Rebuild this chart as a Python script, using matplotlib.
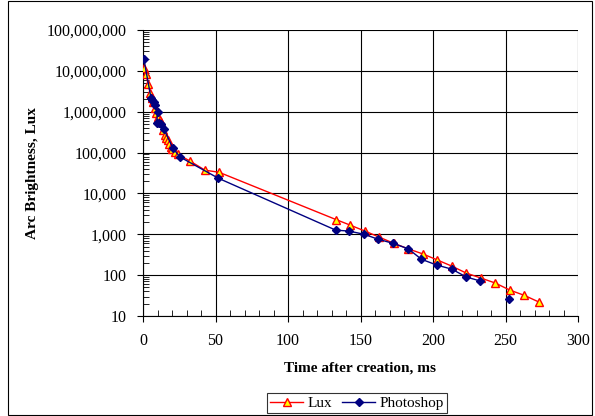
import numpy as np
import matplotlib
matplotlib.use("Agg")
import matplotlib.pyplot as plt
from matplotlib.ticker import FuncFormatter, LogLocator, MultipleLocator
from matplotlib.patches import Rectangle

# data
lux_t = [0.7, 2, 3.5, 5, 6, 7, 8.3, 9.3, 10.3, 11.4, 12.4, 13.8, 15.2, 16.2, 17.2,
         18, 19, 20, 22, 24, 32.4, 42.8, 52.4,
         133, 143, 153, 163, 173, 183, 193, 203, 213, 223, 233, 243, 253, 263, 273]
lux_v = [1.2e7, 8.5e6, 4.7e6, 2.9e6, 2.2e6, 1.7e6, 1.2e6, 9.5e5, 7.4e5, 6.3e5, 5.5e5,
         3.5e5, 2.7e5, 2.3e5, 2.0e5, 1.6e5, 1.4e5, 1.2e5, 1.02e5, 9.1e4, 6.2e4, 3.7e4, 3.3e4,
         2300, 1670, 1200, 850, 600, 440, 330, 235, 166, 112, 85, 64, 43, 32, 22]

ps_t = [0.5, 5.5, 6.5, 7.5, 8.5, 10, 9.5, 11, 12.5, 14.5, 20.7, 25.5, 52,
        133, 142, 152.5, 162, 172.5, 183, 192, 202.5, 213, 223, 232.5, 243, 252.5]
ps_v = [2e7, 2.2e6, 1.9e6, 1.7e6, 1.5e6, 1e6, 5.2e5, 5.2e5, 5.0e5, 3.7e5, 1.27e5, 7.8e4, 2.35e4,
        1260, 1200, 1000, 760, 600, 440, 245, 177, 140, 90, 72, np.nan, 26]

plt.rcParams['font.family'] = ['Liberation Serif', 'DejaVu Serif']

fig = plt.figure(figsize=(5.95, 4.16), dpi=100)
ax = fig.add_axes([143 / 595, 1 - 316 / 416, 435 / 595, 286 / 416])

ax.plot(lux_t, lux_v, color='#ff0000', lw=1, marker='^', ms=6,
        mfc='#ffff00', mec='#ff0000', mew=1, label='Lux', zorder=3)
ax.plot(ps_t, ps_v, color='#000080', lw=1, marker='D', ms=4.5,
        mfc='#000080', mec='#000080', label='Photoshop', zorder=4)

ax.set_yscale('log')
ax.set_ylim(10, 1e8)
ax.set_xlim(0, 300)
ax.xaxis.set_major_locator(MultipleLocator(50))
ax.xaxis.set_minor_locator(MultipleLocator(10))
ax.yaxis.set_major_locator(LogLocator(base=10, numticks=20))
ax.yaxis.set_minor_locator(LogLocator(base=10, subs=np.arange(2, 10), numticks=20))
ax.yaxis.set_major_formatter(FuncFormatter(lambda v, p: f"{v:,.0f}"))

ax.grid(True, which='major', color='black', lw=0.8)
ax.tick_params(which='major', direction='out', length=4, labelsize=11.5, color='black')
ax.tick_params(which='minor', direction='in', length=4, color='black')
ax.tick_params(axis='x', pad=8)
ax.tick_params(axis='y', pad=8)

for side in ['top', 'right']:
    ax.spines[side].set_visible(False)
for side in ['left', 'bottom']:
    ax.spines[side].set_color('black')

ax.set_xlabel('Time after creation, ms', fontsize=11, fontweight='bold', labelpad=9)
ax.set_ylabel('Arc Brightness, Lux', fontsize=11, fontweight='bold', labelpad=5)

leg = fig.legend(loc='center', bbox_to_anchor=(357 / 595, 1 - 403 / 416), ncol=2,
                 fontsize=11, frameon=True, fancybox=False, edgecolor='black',
                 handlelength=2.2, handletextpad=0.3, columnspacing=0.6,
                 borderpad=0.2, borderaxespad=0)
leg.get_frame().set_linewidth(0.8)

fig.patches.append(Rectangle((8 / 595, 0.002), 584 / 595, 0.995, transform=fig.transFigure,
                             fill=False, edgecolor='black', lw=0.8))

fig.savefig('out.png', dpi=100)
